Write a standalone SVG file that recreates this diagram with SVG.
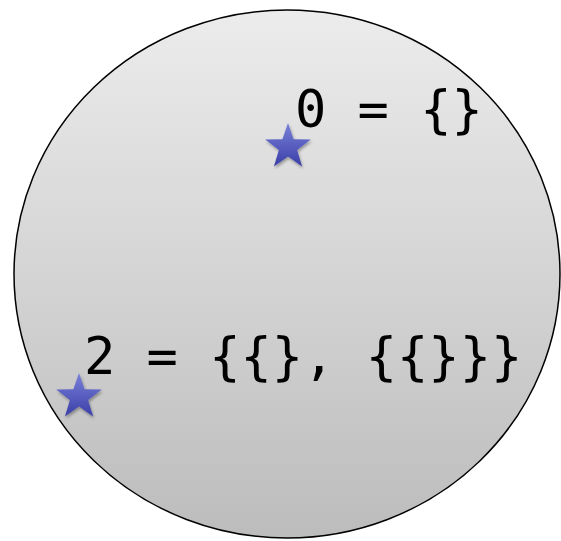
<svg xmlns="http://www.w3.org/2000/svg" width="561" height="541" viewBox="0 0 561 541">
<defs>
<linearGradient id="bg" x1="0" y1="0" x2="0" y2="1">
<stop offset="0" stop-color="#ececec"/>
<stop offset="1" stop-color="#bcbcbc"/>
</linearGradient>
<linearGradient id="sg" x1="0" y1="0" x2="0" y2="1">
<stop offset="0" stop-color="#7a80d8"/>
<stop offset="1" stop-color="#3a3fa8"/>
</linearGradient>
<filter id="sh" x="-30%" y="-30%" width="160%" height="160%">
<feGaussianBlur in="SourceAlpha" stdDeviation="1.5"/>
<feOffset dx="1" dy="2" result="b"/>
<feComponentTransfer><feFuncA type="linear" slope="0.35"/></feComponentTransfer>
<feMerge><feMergeNode/><feMergeNode in="SourceGraphic"/></feMerge>
</filter>
<path id="star" d="M0,-24 L5.6,-7.7 L22.8,-7.4 L9.1,2.9 L14.1,19.4 L0,9.6 L-14.1,19.4 L-9.1,2.9 L-22.8,-7.4 L-5.6,-7.7 Z"/>
</defs>
<style>
.t{font-family:"DejaVu Sans Mono",monospace;font-size:52px;fill:#000}
.s{fill:url(#sg);filter:url(#sh)}
</style>
<g id="set">
<ellipse cx="287" cy="274" rx="273" ry="264" fill="url(#bg)" stroke="#000" stroke-width="1.5"/>
</g>
<g id="zero">
<text class="t" x="295" y="127">0 = {}</text>
<use href="#star" class="s" x="288" y="147"/>
</g>
<g id="two">
<text class="t" x="84" y="374">2 = {{}, {{}}}</text>
<use href="#star" class="s" x="79" y="397"/>
</g>
</svg>
